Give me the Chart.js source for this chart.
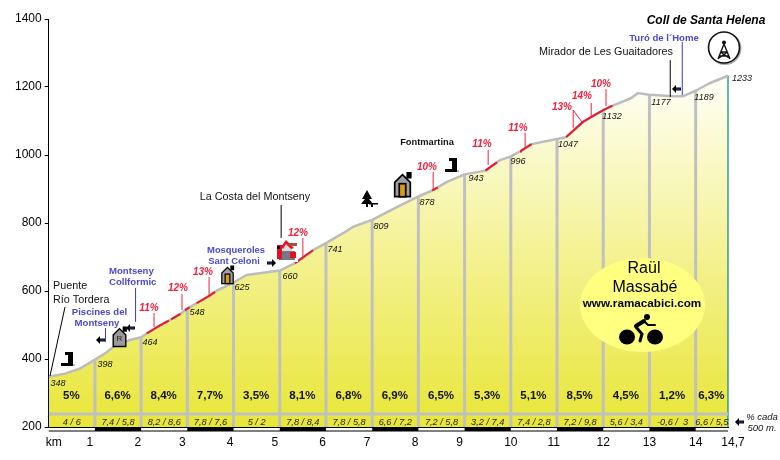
<!DOCTYPE html>
<html>
<head>
<meta charset="utf-8">
<style>html,body{margin:0;padding:0;background:#fff}canvas{display:block}</style>
<script src="https://cdn.jsdelivr.net/npm/chart.js@4/dist/chart.umd.js"></script>
</head>
<body>
<canvas id="c" width="780" height="460"></canvas>
<script>
// ---- data ----
const profileKm   = [0,0.35,0.68,1,1.2,1.43,1.76,2,2.12,2.4,2.63,2.85,3,3.2,3.5,3.65,4,4.28,4.6,5,5.33,5.72,6,6.37,6.59,7,7.45,8,8.32,8.62,9,9.45,9.77,10,10.22,10.45,11,11.2,11.57,12,12.18,12.6,12.75,13,13.5,13.73,14,14.3,14.7];
const profileElev = [348,357,372,398,415,438,456,464,475,498,515,533,548,564,588,602,625,647,653,660,682,720,741,770,789,809,841,878,897,921,943,954,985,996,1012,1032,1047,1053,1098,1132,1144,1167,1182,1177,1173,1173,1189,1211,1233];
const kmMarks  = [1,2,3,4,5,6,7,8,9,10,11,12,13,14];
const kmElev   = [398,464,548,625,660,741,809,878,943,996,1047,1132,1177,1189];
const elevLabels = [348,398,464,548,625,660,741,809,878,943,996,1047,1132,1177,1189,1233];
const kmAvg = ["5%","6,6%","8,4%","7,7%","3,5%","8,1%","6,8%","6,9%","6,5%","5,3%","5,1%","8,5%","4,5%","1,2%","6,3%"];
const halfKm = ["4 / 6","7,4 / 5,8","8,2 / 8,6","7,8 / 7,6","5 / 2","7,8 / 8,4","7,8 / 5,8","6,6 / 7,2","7,2 / 5,8","3,2 / 7,4","7,4 / 2,8","7,2 / 9,8","5,6 / 3,4","-0,6 /  3","6,6 / 5,5"];
const steepRanges = [[2.12,2.6],[2.65,2.85],[2.95,3.05],[3.2,3.6],[5.33,5.72],[8.3,8.42],[9.45,9.7],[10.2,10.45],[11.2,12.2]];
const yTicks = [200,400,600,800,1000,1200,1400];
const xTicks = [0,1,2,3,4,5,6,7,8,9,10,11,12,13,14,14.7];
const xTickText = ["   km","1   ","2  ","3   ","4  ","5   ","6  ","7   ","8  ","9   ","10","11  ","12","13","14","   14,7"];
const redLeaders   = [[2.28,494,535],[2.885,544,591],[3.47,588,641],[5.50,700,756],[8.32,897,950],[9.51,971,1015],[10.31,1018,1065],[11.35,1079,1132],[11.74,1112,1153],[12.06,1144,1194]];
const blackLeaders = [[13.45,1171,1279],[5.03,756,853]];
const blueLeaders  = [[1.23,450,491],[1.88,509,609],[13.71,1176,1332]];
const BAND = 238, STRIP = 194.1, STRIP_LOW = 188.2, MAX_KM = 14.7;

// ---- helpers building line data with gaps ----
const gap = x => ({x, y:null});
const leaders = list => list.flatMap(([k,a,b]) => [{x:k,y:a},{x:k,y:b},gap(k)]);
function elevAt(k){
  for(let i=1;i<profileKm.length;i++){
    if(k<=profileKm[i]){
      const t=(k-profileKm[i-1])/(profileKm[i]-profileKm[i-1]);
      return profileElev[i-1]+t*(profileElev[i]-profileElev[i-1]);
    }
  }
  return profileElev[profileElev.length-1];
}
const steepData = steepRanges.flatMap(([a,b])=>{
  const inner = profileKm.filter(k=>k>a&&k<b).map(k=>({x:k,y:elevAt(k)}));
  return [{x:a,y:elevAt(a)},...inner,{x:b,y:elevAt(b)},gap(b)];
});
const bars = kmMarks.flatMap((k,i)=>[{x:k,y:200},{x:k,y:kmElev[i]},gap(k)]);
const blacks=[];
for(let k=1;k<15;k+=2){
  const end=Math.min(k+1,MAX_KM);
  blacks.push({x:k,y:STRIP},{x:end,y:STRIP},gap(end));
}
const base = {pointRadius:0,pointHoverRadius:0,spanGaps:false,tension:0,borderCapStyle:'butt'};

const annotate = {
  id:'annotate',
  afterDatasetsDraw(chart){
    const c=chart.ctx, X=chart.scales.x, Y=chart.scales.y;
    const F="'Liberation Sans',Arial,sans-serif";
    const txt=(s,x,y,font,col,al)=>{c.font=font+" "+F;c.fillStyle=col||'#000';c.textAlign=al||'center';c.textBaseline='middle';c.fillText(s,x,y);};
    const RED='#f5203c', BLUE='#4a4ad0';
    c.save();

    // km averages and half-km grades
    kmAvg.forEach((s,i)=>{
      const k = i===14 ? 14.35 : i+0.5;
      txt(s,X.getPixelForValue(k)-0.5,396,'bold 11.5px','#111');
      txt(halfKm[i],X.getPixelForValue(k),422,'italic 9.2px','#222');
    });

    // elevation labels
    const elevPos=[[58,383],[105,364],[150,342],[197,312],[242,287],[290,276],[335,249],[381,226],[427,202],[476,178],[518,161],[568,144],[612,116],[661,102],[704,97],[742,78]];
    elevLabels.forEach((v,i)=>txt(String(v),elevPos[i][0],elevPos[i][1],'italic 9px','#111'));

    // grade labels
    [["11%",149,308],["12%",178,288],["13%",203,272],["12%",298,233],["10%",427,167],["11%",482,144],["11%",518,128],["13%",562,107],["14%",582,96],["10%",601,84]]
      .forEach(([s,x,y])=>txt(s,x,y,'italic bold 10px',RED));

    // names
    txt("Puente",53,286,'10.8px','#111','left');
    txt("Río Tordera",53,300,'10.8px','#111','left');
    txt("Montseny",109,271,'bold 9.6px',BLUE,'left');
    txt("Collformic",109,282,'bold 9.6px',BLUE,'left');
    txt("Piscines del",99.5,312,'bold 9.6px',BLUE);
    txt("Montseny",97,323,'bold 9.6px',BLUE);
    txt("Mosqueroles",236,250,'bold 9.4px',BLUE);
    txt("Sant Celoni",234,261,'bold 9.4px',BLUE);
    txt("La Costa del Montseny",255,197,'10.8px','#111');
    txt("Fontmartina",427,142,'bold 9.3px','#111');
    txt("Coll de Santa Helena",706,21,'italic bold 12px','#000');
    txt("Turó de l´Home",664,38,'bold 9.6px',BLUE);
    txt("Mirador de Les Guaitadores",606,52,'10.8px','#111');
    txt("% cada",762,417,'italic 9.5px','#111');
    txt("500 m.",762,428,'italic 9.5px','#111');

    // extra thin leaders
    c.lineWidth=1;
    c.strokeStyle='#000';c.beginPath();c.moveTo(50,376);c.lineTo(65,307);c.stroke();
    c.strokeStyle=RED;c.beginPath();c.moveTo(573,110);c.lineTo(582,122);c.stroke();

    // arrows
    const arrow=(x,y,dir)=>{
      c.strokeStyle='#000';c.lineWidth=3;c.beginPath();c.moveTo(x-4*dir,y);c.lineTo(x+2*dir,y);c.stroke();
      c.strokeStyle='#3030a0';c.lineWidth=1.2;c.beginPath();c.moveTo(x-3.5*dir,y);c.lineTo(x+2*dir,y);c.stroke();
      c.fillStyle='#000';c.beginPath();c.moveTo(x+5*dir,y);c.lineTo(x+1*dir,y-4);c.lineTo(x+1*dir,y+4);c.closePath();c.fill();
    };
    arrow(101,340,-1);arrow(131,328,-1);arrow(271,263,1);arrow(677,89,-1);arrow(740,422,-1);

    // step symbols
    const step=(x,y)=>{
      c.fillStyle='#bbb';c.fillRect(x-5,y+12,13,2);
      c.fillStyle='#000';c.fillRect(x+1,y,5,14);c.fillRect(x-6,y+11,12,3);c.fillRect(x-2,y,3,3);
    };
    step(67,352);step(451,158);

    // house
    const house=(x,y,s,wall,door,letter)=>{
      c.save();c.translate(x,y);c.scale(s,s);
      c.fillStyle='#000';c.fillRect(3,-10,4,5);
      c.fillStyle=wall;c.strokeStyle='#000';c.lineWidth=1.3;
      c.beginPath();c.moveTo(-6,9);c.lineTo(-6,-2);c.lineTo(0,-8);c.lineTo(6,-2);c.lineTo(6,9);c.closePath();c.fill();c.stroke();
      if(door){c.fillStyle=door;c.fillRect(-2.5,-1,5,10);c.strokeRect(-2.5,-1,5,10);}
      c.restore();
      if(letter){txt(letter,x,y+2,'8px','#222');}
    };
    house(119.5,337,1.05,'#9a9a9a',null,'R');
    house(227.5,275,0.95,'#a0a0a0','#d89a10');
    house(402.5,185,1.3,'#a0a0a0','#d89a10');

    // red building
    c.fillStyle='#fff';c.fillRect(276,238,22,24);
    c.fillStyle='#778';c.fillRect(279,251,16,9);
    c.fillStyle='#ddd';c.fillRect(283,244,9,7);
    c.fillStyle='#e81020';c.fillRect(277,245,5,14);c.fillRect(290,252,6,6);
    c.beginPath();c.moveTo(281,247);c.lineTo(286,240);c.lineTo(294,248);c.lineTo(291,249);c.lineTo(286,244);c.lineTo(283,249);c.closePath();c.fill();
    c.fillStyle='#a05040';c.fillRect(289,243,8,3);
    c.fillStyle='#000';c.fillRect(277,246,3,3);

    // tree and bench
    c.fillStyle='#000';
    c.beginPath();c.moveTo(367,190);c.lineTo(372,199);c.lineTo(369,199);c.lineTo(373,204);c.lineTo(361,204);c.lineTo(365,199);c.lineTo(362,199);c.closePath();c.fill();
    c.fillRect(366,204,2,3);c.fillRect(369,203,9,1.5);c.fillRect(371,203,2,4);

    // tower logo
    c.lineWidth=2;c.strokeStyle='#aaa';c.beginPath();c.arc(725,48.5,15.5,0,Math.PI*2);c.stroke();
    c.lineWidth=1.6;c.strokeStyle='#111';c.fillStyle='#fff';c.beginPath();c.arc(724,47.5,15.5,0,Math.PI*2);c.fill();c.stroke();
    c.lineWidth=1.4;c.beginPath();
    c.moveTo(724,44);c.lineTo(718,59);c.moveTo(724,44);c.lineTo(730,59);
    c.moveTo(720.5,52);c.lineTo(727.5,52);c.moveTo(719,56);c.lineTo(729,56);c.moveTo(720.5,52);c.lineTo(729,58);c.moveTo(727.5,52);c.lineTo(719,58);c.stroke();
    c.fillStyle='#111';c.beginPath();c.arc(724,42.5,2,0,Math.PI*2);c.fill();

    // author badge
    c.fillStyle='#ffff80';c.beginPath();c.ellipse(642.5,305,62.5,47,0,0,Math.PI*2);c.fill();
    txt("Raül",644,269,'16px','#000');
    txt("Massabé",645,288,'16px','#000');
    txt("www.ramacabici.com",642,304,'bold 11.7px','#000');
    c.fillStyle='#000';
    c.beginPath();c.ellipse(627,337,8,7.5,0,0,Math.PI*2);c.fill();
    c.beginPath();c.ellipse(655,337,8,7.5,0,0,Math.PI*2);c.fill();
    c.beginPath();c.arc(647,317,3,0,Math.PI*2);c.fill();
    c.strokeStyle='#000';c.lineCap='round';
    c.lineWidth=4;c.beginPath();c.moveTo(636,326);c.lineTo(644,321);c.stroke();
    c.lineWidth=2;c.beginPath();c.moveTo(644,321);c.lineTo(648,325);c.lineTo(655,325);c.stroke();
    c.lineWidth=3;c.beginPath();c.moveTo(636,327);c.lineTo(642,334);c.lineTo(640,341);c.stroke();
    c.restore();
  }
};

new Chart(document.getElementById('c').getContext('2d'),{
  type:'line',
  data:{datasets:[
    {...base,label:'red leaders',data:leaders(redLeaders),borderColor:'#f5203c',borderWidth:1,order:1},
    {...base,label:'black leaders',data:leaders(blackLeaders),borderColor:'#000',borderWidth:1,order:1},
    {...base,label:'blue leaders',data:leaders(blueLeaders),borderColor:'#3a3ac0',borderWidth:1,order:1},
    {...base,label:'steep',data:steepData,borderColor:'#e81830',borderWidth:2,order:2},
    {...base,label:'black strip',data:blacks,borderColor:'#000',borderWidth:4,clip:false,order:3},
    {...base,label:'strip base',data:[{x:0,y:STRIP_LOW},{x:MAX_KM,y:STRIP_LOW}],borderColor:'#000',borderWidth:1,clip:false,order:3},
    {...base,label:'profile line',data:profileKm.map((k,i)=>({x:k,y:profileElev[i]})),borderColor:'#bcbcbc',borderWidth:2.5,borderJoinStyle:'round',order:4},
    {...base,label:'km bars',data:bars,borderColor:'#c0c0c0',borderWidth:3,order:5},
    {...base,label:'band',data:[{x:0,y:BAND},{x:MAX_KM,y:BAND}],borderColor:'#c0c0c0',borderWidth:3,order:5},
    {...base,label:'summit',data:[{x:MAX_KM,y:200},{x:MAX_KM,y:1233}],borderColor:'#008878',borderWidth:1.2,clip:false,order:5},
    {...base,label:'profile fill',data:profileKm.map((k,i)=>({x:k,y:profileElev[i]})),borderWidth:0,fill:'start',order:6,
      backgroundColor(ctx){
        const a=ctx.chart.chartArea; if(!a) return '#f0ee70';
        const g=ctx.chart.ctx.createLinearGradient(0,76,0,a.bottom);
        g.addColorStop(0,'#fffff8');g.addColorStop(0.5,'#f4f294');g.addColorStop(1,'#e8e638');
        return g;
      }}
  ]},
  options:{
    responsive:false,animation:false,devicePixelRatio:1,
    layout:{padding:{top:19,right:52,left:0,bottom:0}},
    plugins:{legend:{display:false},title:{display:false},tooltip:{enabled:false}},
    scales:{
      x:{type:'linear',min:0,max:MAX_KM,
        afterBuildTicks(s){s.ticks=xTicks.map(v=>({value:v}));},
        afterFit(s){s.height=33;},
        grid:{display:false,drawTicks:false},
        border:{display:true,color:'#000',width:1},
        ticks:{autoSkip:false,maxRotation:0,minRotation:0,padding:8,color:'#000',font:{family:"'Liberation Sans',Arial,sans-serif",size:12},
          callback(v){const i=xTicks.indexOf(v);return i>=0?xTickText[i]:'';}}
      },
      y:{type:'linear',min:200,max:1400,
        afterBuildTicks(s){s.ticks=yTicks.map(v=>({value:v}));},
        afterFit(s){s.width=48.7;},
        grid:{drawOnChartArea:false,drawTicks:true,tickLength:4,color:'#000'},
        border:{display:true,color:'#000',width:1},
        ticks:{padding:3,color:'#000',font:{family:"'Liberation Sans',Arial,sans-serif",size:12},callback(v){return String(v);}}
      }
    }
  },
  plugins:[annotate]
});
</script>
</body>
</html>
